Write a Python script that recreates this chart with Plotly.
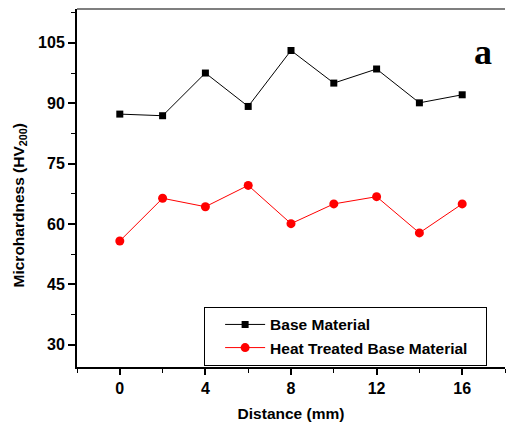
import plotly.graph_objects as go

distance = [0, 2, 4, 6, 8, 10, 12, 14, 16]
base_material = [87.3, 86.9, 97.5, 89.2, 103.1, 95.0, 98.5, 90.1, 92.1]
heat_treated = [55.8, 66.4, 64.3, 69.6, 60.1, 65.0, 66.8, 57.8, 65.0]

x_ticks = [0, 4, 8, 12, 16]
y_ticks = [30, 45, 60, 75, 90, 105]

font_family = "Liberation Sans, Arial, sans-serif"

fig = go.Figure()
fig.add_trace(go.Scatter(
    x=distance, y=base_material, mode="lines+markers", name="<b>Base Material</b>",
    line=dict(color="black", width=1),
    marker=dict(symbol="square", size=7, color="black"),
))
fig.add_trace(go.Scatter(
    x=distance, y=heat_treated, mode="lines+markers",
    name="<b>Heat Treated Base Material</b>" + "\u00a0" * 3,
    line=dict(color="#FF0000", width=1),
    marker=dict(symbol="circle", size=9, color="#FF0000"),
))

fig.add_annotation(
    x=0.9486, y=0.879, xref="paper", yref="paper", text="<b>a</b>", showarrow=False,
    xanchor="center", yanchor="middle",
    font=dict(family="Liberation Serif, Times New Roman, serif", size=36, color="black"),
)

# top frame line
fig.add_shape(type="line", xref="paper", yref="paper", x0=0, x1=1, y0=1, y1=1,
              line=dict(color="#555555", width=1.5))

fig.update_layout(
    width=508, height=423,
    margin=dict(l=77, r=3, t=9, b=56, autoexpand=False),
    paper_bgcolor="white", plot_bgcolor="white",
    font=dict(family=font_family, size=15, color="black"),
    showlegend=True,
    legend=dict(
        x=0.297, y=0.168, xanchor="left", yanchor="top",
        bordercolor="black", borderwidth=1, bgcolor="white",
        font=dict(family=font_family, size=15.5, color="black"),
        tracegroupgap=0, itemwidth=40, indentation=15,
    ),
    xaxis=dict(
        range=[-2, 18], tickvals=x_ticks, ticktext=[f"<b>{v}</b>" for v in x_ticks],
        ticks="outside", ticklen=6, tickwidth=1.5, tickcolor="black", automargin=False,
        showline=True, linecolor="black", linewidth=2, showgrid=False, zeroline=False,
        minor=dict(ticks="outside", ticklen=4, tickwidth=1, tickcolor="black", tickvals=[-2, 2, 6, 10, 14, 18]),
        title=dict(text="<b>Distance (mm)</b>", font=dict(size=15.5), standoff=12),
        tickfont=dict(size=16),
    ),
    yaxis=dict(
        range=[24.5, 113.4], tickvals=y_ticks, ticktext=[f"<b>{v}</b>" for v in y_ticks],
        ticks="outside", ticklen=7, tickwidth=1.5, tickcolor="black", automargin=False,
        showline=True, linecolor="black", linewidth=2, showgrid=False, zeroline=False,
        minor=dict(ticks="outside", ticklen=4, tickwidth=1, tickcolor="black",
                   tickvals=[37.5, 52.5, 67.5, 82.5, 97.5, 112.5]),
        title=dict(text="<b>Microhardness (HV<sub>200</sub>)" + "\u00a0" * 8 + "</b>",
                   font=dict(size=15.5), standoff=10),
        tickfont=dict(size=16),
    ),
)

# remove the page's default 8px body margin so the 508x423 figure fills the window exactly
fig.write_html(
    "out.html",
    config={"displayModeBar": False},
    post_script="document.body.style.margin='0';document.body.style.overflow='hidden';",
)
